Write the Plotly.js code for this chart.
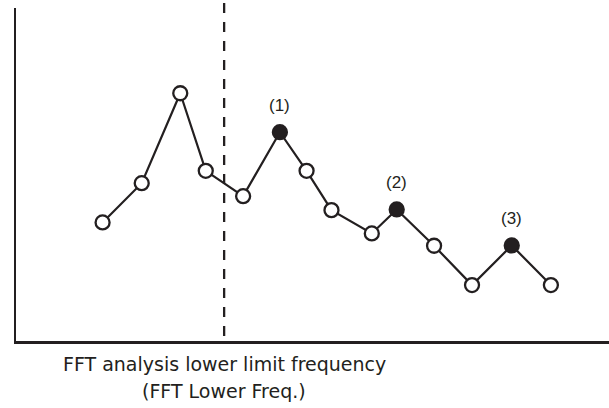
<!DOCTYPE html>
<html>
<head>
<meta charset="utf-8">
<script src="https://cdn.plot.ly/plotly-3.0.1.min.js"></script>
<style>
  html, body { margin: 0; padding: 0; background: #ffffff; }
  #chart { width: 609px; height: 408px; }
</style>
</head>
<body>
<div id="chart"></div>
<script>
// Frequency position (relative units) and level (relative units) of each spectral line
const freq  = [14.6, 21.2, 27.7, 32.0, 38.3, 44.5, 49.0, 53.2, 60.0, 64.2, 70.5, 76.9, 83.6, 90.2];
const level = [35.6, 47.4, 74.4, 51.1, 43.5, 62.7, 51.1, 39.3, 32.3, 39.5, 28.6, 16.8, 28.7, 16.8];
// indices of the detected peaks (filled markers) and their labels
const peakIndex  = [5, 9, 12];
const peakLabels = ["(1)", "(2)", "(3)"];
// FFT analysis lower limit frequency (dashed line)
const lowerFreq = 35.1;
const lowerFreqLabel = ["FFT analysis lower limit frequency", "(FFT Lower Freq.)"];

const ink = "#231f20";
const fillColors = freq.map((_, i) => peakIndex.includes(i) ? ink : "#ffffff");

const trace = {
  x: freq,
  y: level,
  type: "scatter",
  mode: "lines+markers",
  line: { color: ink, width: 2.2 },
  marker: {
    symbol: "circle",
    size: 14,
    color: fillColors,
    line: { color: ink, width: 2.3 }
  },
  hoverinfo: "skip",
  showlegend: false
};

const annotations = peakIndex.map((idx, k) => ({
  x: freq[idx], y: level[idx], xref: "x", yref: "y",
  text: peakLabels[k], showarrow: false,
  xanchor: "center", yanchor: "middle", yshift: 27,
  font: { family: "Liberation Sans, Arial, sans-serif", size: 17, color: ink }
}));
annotations.push({
  x: lowerFreq, y: 0, xref: "x", yref: "paper",
  text: lowerFreqLabel[0], showarrow: false,
  xanchor: "center", yanchor: "middle", yshift: -22.5,
  font: { family: "DejaVu Sans, sans-serif", size: 19, color: ink }
});
annotations.push({
  x: lowerFreq, y: 0, xref: "x", yref: "paper",
  text: lowerFreqLabel[1], showarrow: false,
  xanchor: "center", yanchor: "middle", yshift: -50,
  font: { family: "DejaVu Sans, sans-serif", size: 19, color: ink }
});

const layout = {
  width: 609, height: 408,
  margin: { l: 16, r: 0, t: 8, b: 67, pad: 0 },
  paper_bgcolor: "#ffffff",
  plot_bgcolor: "#ffffff",
  xaxis: {
    range: [0, 100], showgrid: false, zeroline: false, showticklabels: false, ticks: "",
    showline: true, linecolor: ink, linewidth: 2.5, fixedrange: true
  },
  yaxis: {
    range: [0, 100], showgrid: false, zeroline: false, showticklabels: false, ticks: "",
    showline: true, linecolor: ink, linewidth: 2.5, fixedrange: true
  },
  shapes: [{
    type: "line", xref: "x", yref: "paper",
    x0: lowerFreq, x1: lowerFreq, y0: 1.015, y1: 0,
    line: { color: ink, width: 2.3, dash: "10px,9px" }
  }],
  annotations: annotations
};

Plotly.newPlot("chart", [trace], layout, { staticPlot: true, displayModeBar: false });
</script>
</body>
</html>
